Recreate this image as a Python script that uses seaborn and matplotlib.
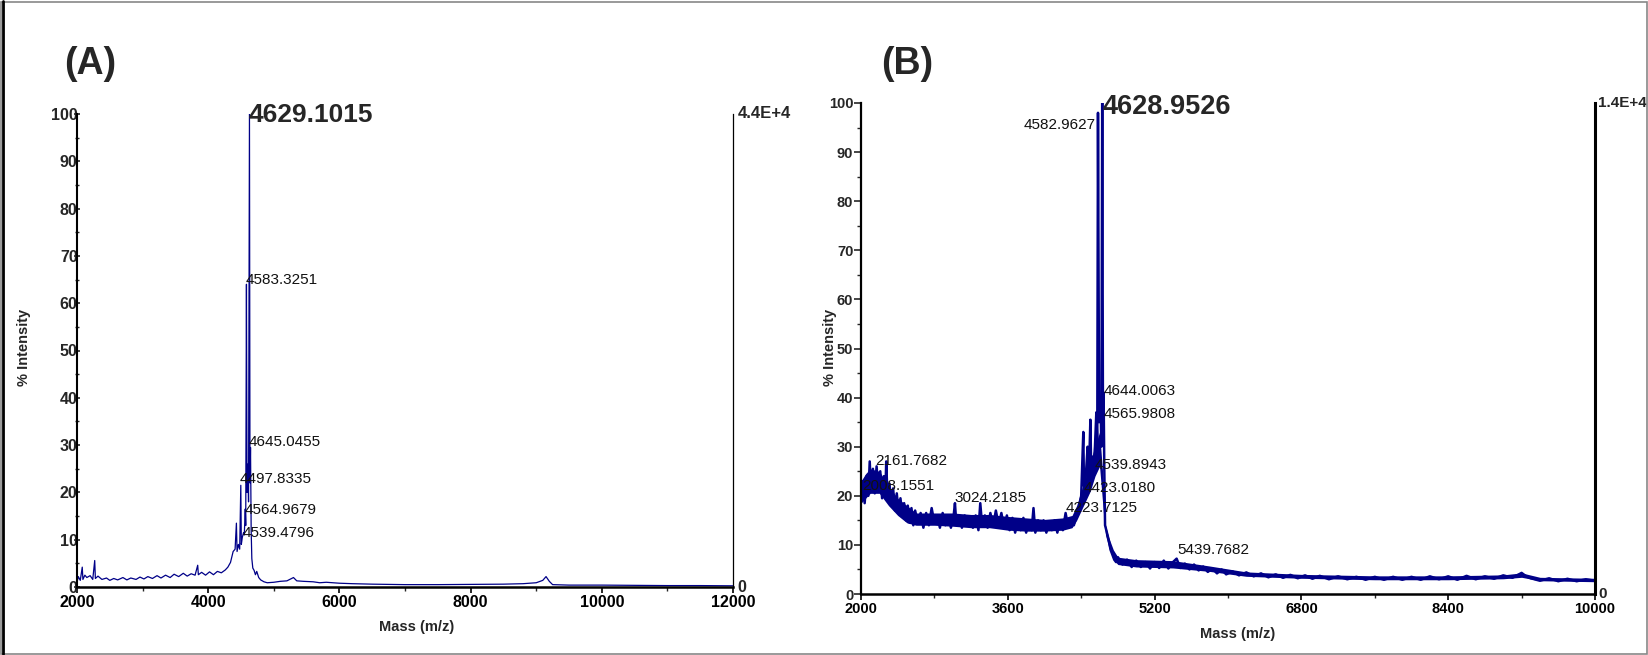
import matplotlib
matplotlib.use("Agg")
import matplotlib.pyplot as plt
import seaborn as sns
import numpy as np
import pandas as pd
from matplotlib.ticker import MultipleLocator, FixedLocator
from matplotlib.patches import Rectangle
from matplotlib.lines import Line2D

# ---------------- data: panel A ----------------
mass_A = [2000, 2020, 2050, 2080, 2090, 2120, 2150, 2200, 2240, 2270, 2280, 2320, 2380, 2450,
          2500, 2560, 2620, 2700, 2760, 2820, 2900, 2960, 3020, 3080, 3150, 3220, 3280, 3350,
          3420, 3480, 3550, 3620, 3680, 3740, 3800, 3840, 3850, 3900, 3960, 4020, 4080, 4140,
          4200, 4260, 4300, 4340, 4380, 4410, 4430, 4440, 4460, 4480, 4497, 4505, 4520, 4539,
          4550, 4565, 4572, 4583, 4592, 4605, 4615, 4629, 4637, 4645, 4655, 4665, 4680, 4700,
          4720, 4740, 4770, 4800, 4850, 4900, 5000, 5100, 5200, 5300, 5350, 5450, 5600, 5700,
          5800, 6000, 6200, 6500, 7000, 7500, 8000, 8500, 8800, 9000, 9100, 9150, 9200, 9250,
          9500, 10000, 10500, 11000, 11500, 12000]
int_A = [1.0, 2.2, 1.4, 4.2, 1.6, 2.5, 2.0, 2.4, 1.6, 5.6, 1.8, 2.3, 1.6, 1.9,
         1.4, 1.8, 1.5, 2.0, 1.5, 1.9, 1.6, 2.1, 1.7, 2.2, 1.8, 2.4, 1.9, 2.5,
         2.0, 2.7, 2.2, 2.9, 2.3, 2.8, 2.5, 4.6, 2.6, 3.1, 2.5, 3.2, 2.6, 3.3,
         3.0, 3.6, 4.2, 5.2, 7.5, 8.0, 13.5, 7.5, 9.0, 8.0, 21.5, 9.0, 10.5, 11.5,
         11.0, 16.5, 13.0, 64.0, 20.0, 26.0, 18.0, 100.0, 22.0, 29.5, 12.0, 6.0, 4.0, 3.5,
         2.6, 3.3, 2.0, 1.5, 1.1, 0.9, 1.0, 1.2, 1.3, 2.0, 1.3, 1.2, 1.1, 0.9,
         1.0, 0.8, 0.7, 0.6, 0.5, 0.5, 0.55, 0.6, 0.7, 0.9, 1.4, 2.2, 1.2, 0.5,
         0.4, 0.4, 0.35, 0.3, 0.3, 0.25]

peakA_text = ["4583.3251", "4645.0455", "4497.8335", "4564.9679", "4539.4796"]
peakA_mass = [4572, 4622, 4485, 4550, 4526]
peakA_int = [64.0, 29.8, 22.0, 15.4, 10.5]
baseA_text = "4629.1015"
baseA_mass, baseA_int = 4622, 98.3

# ---------------- data: panel B ----------------
mass_B = [2000, 2020, 2040, 2060, 2080, 2095, 2110, 2130, 2150, 2170, 2190, 2210, 2230, 2250,
          2265, 2275, 2290, 2310, 2330, 2350, 2370, 2390, 2410, 2430, 2450, 2470, 2490, 2510,
          2530, 2550, 2570, 2590, 2620, 2650, 2680, 2710, 2740, 2770, 2800, 2830, 2860, 2890,
          2920, 2950, 2980, 3010, 3024, 3040, 3070, 3100, 3130, 3160, 3190, 3220, 3250, 3280,
          3300, 3320, 3350, 3380, 3410, 3440, 3470, 3500, 3530, 3560, 3590, 3620, 3650, 3680,
          3710, 3740, 3770, 3800, 3830, 3860, 3880, 3900, 3930, 3960, 3990, 4020, 4050, 4080,
          4110, 4140, 4170, 4200, 4230, 4260, 4290, 4320, 4350, 4380, 4400, 4423, 4430, 4450,
          4470, 4480, 4500, 4510, 4530, 4539, 4550, 4565, 4575, 4583, 4595, 4610, 4620, 4629,
          4637, 4644, 4652, 4660, 4680, 4700, 4720, 4740, 4760, 4780, 4800, 4850, 4900, 4950,
          5000, 5050, 5100, 5150, 5200, 5250, 5300, 5350, 5400, 5440, 5480, 5530, 5580, 5630,
          5680, 5730, 5780, 5830, 5880, 5930, 5980, 6050, 6120, 6200, 6280, 6360, 6440, 6520,
          6600, 6680, 6760, 6840, 6920, 7000, 7100, 7200, 7300, 7400, 7500, 7600, 7700, 7800,
          7900, 8000, 8100, 8200, 8300, 8400, 8500, 8600, 8700, 8800, 8900, 9000, 9100, 9200,
          9250, 9300, 9400, 9500, 9600, 9700, 9800, 9900, 10000]
int_B = [19.0, 23.0, 18.5, 24.0, 20.0, 27.0, 21.0, 25.5, 20.5, 26.0, 21.0, 25.0, 19.5, 24.0,
         20.0, 27.0, 19.0, 22.5, 18.0, 21.5, 17.0, 20.5, 16.5, 19.5, 16.0, 18.5, 15.0, 18.0,
         14.5, 17.5, 14.0, 17.0, 14.5, 16.5, 13.5, 16.5, 14.0, 17.5, 14.5, 16.0, 13.5, 16.5,
         14.0, 16.0, 13.5, 16.0, 18.5, 14.0, 16.0, 13.5, 16.0, 14.0, 15.5, 13.5, 16.0, 13.0,
         18.5, 14.0, 16.0, 13.5, 16.5, 14.0, 17.0, 14.0, 16.5, 13.5, 16.0, 13.0, 15.5, 12.5,
         15.0, 13.0, 15.5, 12.5, 15.0, 13.0, 17.5, 12.5, 15.0, 13.0, 15.0, 12.5, 14.5, 13.0,
         15.0, 12.5, 15.0, 13.0, 16.5, 13.5, 15.0, 14.0, 16.0, 18.0, 20.0, 33.0, 22.0, 24.0,
         30.0, 21.0, 35.5, 24.0, 28.0, 27.0, 30.0, 37.0, 30.0, 98.0, 35.0, 40.0, 30.0, 100.0,
         36.0, 41.0, 25.0, 14.0, 12.5, 11.0, 9.0, 8.0, 7.0, 6.5, 7.5, 6.0, 7.0, 5.5,
         6.8, 5.5, 6.5, 5.2, 6.5, 5.3, 6.8, 5.2, 6.5, 7.2, 5.3, 6.2, 5.0, 6.0,
         4.8, 5.6, 4.5, 5.2, 4.2, 5.0, 4.0, 4.6, 3.8, 4.4, 3.6, 4.2, 3.4, 4.0,
         3.3, 3.9, 3.2, 3.8, 3.1, 3.7, 3.0, 3.6, 3.0, 3.5, 2.9, 3.5, 2.9, 3.5,
         2.9, 3.5, 2.9, 3.6, 3.0, 3.6, 2.9, 3.7, 3.0, 3.6, 3.1, 3.8, 3.3, 4.3,
         3.6, 3.2, 2.7, 3.2, 2.6, 3.1, 2.6, 3.0, 2.7]

# noise band of panel B (lower / upper envelope)
band_mass_B = [2000, 2050, 2100, 2200, 2300, 2400, 2500, 2600, 2800, 3000, 3200, 3400, 3600,
               3800, 4000, 4200, 4300, 4350, 4400, 4450, 4500, 4550, 4600, 4645, 4665, 4700,
               4750, 4800, 5000, 5400, 5800, 6200, 6800, 7600, 8400, 9000, 9200, 9400, 10000]
band_low_B = [18.5, 19.5, 20.5, 20.5, 18.0, 16.0, 14.5, 14.0, 14.0, 13.8, 13.5, 13.5, 13.0,
              12.8, 12.8, 13.0, 13.5, 15.0, 17.0, 19.0, 21.0, 24.0, 26.0, 16.0, 12.0, 9.5,
              7.0, 6.0, 5.5, 5.3, 4.6, 3.6, 3.2, 2.9, 2.9, 3.1, 3.4, 2.7, 2.5]
band_high_B = [23.0, 24.5, 25.5, 25.0, 22.0, 19.5, 18.0, 16.5, 16.5, 16.5, 16.2, 16.2, 15.8,
               15.5, 15.2, 15.5, 16.0, 18.0, 21.0, 24.0, 27.0, 30.0, 33.0, 22.0, 14.0, 11.5,
               9.0, 7.5, 7.0, 6.8, 5.7, 4.5, 4.0, 3.7, 3.7, 3.9, 4.3, 3.4, 3.2]

peakB_text = ["4644.0063", "4565.9808", "4539.8943", "4423.0180", "4223.7125",
              "2161.7682", "2008.1551", "3024.2185", "5439.7682"]
peakB_mass = [4648, 4648, 4550, 4423, 4231, 2156, 2011, 3016, 5446]
peakB_int = [40.6, 35.8, 25.5, 20.8, 16.7, 26.2, 21.1, 18.7, 8.1]
leftB_text = "4582.9627"
leftB_mass, leftB_int = 4557, 94.8
baseB_text = "4628.9526"
baseB_mass, baseB_int = 4630, 97.7

xticks_B = [2000, 3600, 5200, 6800, 8400, 10000]
xminor_B = [2800, 4400, 6000, 7600, 9200]

# ---------------- style ----------------
sns.set_theme(style="ticks")
plt.rcParams['font.family'] = ['Liberation Sans', 'DejaVu Sans']

W, H = 1648, 655
fig = plt.figure(figsize=(W / 100, H / 100), dpi=100)
fig.patch.set_facecolor("white")

NAVY = "#000088"

axA = fig.add_axes([77 / W, (H - 587) / H, (733 - 77) / W, (587 - 114) / H])
axB = fig.add_axes([861 / W, (H - 594) / H, (1595 - 861) / W, (594 - 103) / H])

dfA = pd.DataFrame({"mass": mass_A, "intensity": int_A})
dfB = pd.DataFrame({"mass": mass_B, "intensity": int_B})
sns.lineplot(data=dfA, x="mass", y="intensity", ax=axA, color=NAVY, lw=0.9,
             estimator=None, sort=False)
axB.fill_between(band_mass_B, band_low_B, band_high_B, color=NAVY, lw=0)
sns.lineplot(data=dfB, x="mass", y="intensity", ax=axB, color=NAVY, lw=1.8,
             estimator=None, sort=False)


def style_axis(ax, xlim, lw_left, lw_bottom, lw_right, tsize, ylab_pad, ydir):
    ax.set_xlim(*xlim)
    ax.set_ylim(0, 100)
    ax.set_facecolor("white")
    ax.yaxis.set_major_locator(MultipleLocator(10))
    ax.yaxis.set_minor_locator(MultipleLocator(5))
    ax.spines['top'].set_visible(False)
    ax.spines['left'].set_linewidth(lw_left)
    ax.spines['bottom'].set_linewidth(lw_bottom)
    ax.spines['right'].set_linewidth(lw_right)
    for s in ['left', 'bottom', 'right']:
        ax.spines[s].set_color("black")
    ax.tick_params(axis='x', which='major', direction='out', length=4, width=1.2,
                   pad=2, labelsize=tsize, colors='black')
    ax.tick_params(axis='x', which='minor', direction='out', length=3, width=1.0)
    ax.tick_params(axis='y', which='major', direction=ydir, length=5, width=1.2,
                   pad=ylab_pad, labelsize=tsize, right=False)
    ax.tick_params(axis='y', which='minor', direction=ydir, length=3, width=1.0, right=False)
    ax.set_xlabel("")
    ax.set_ylabel("")
    ax.grid(False)


axA.xaxis.set_major_locator(MultipleLocator(2000))
axA.xaxis.set_minor_locator(MultipleLocator(1000))
axB.xaxis.set_major_locator(FixedLocator(xticks_B))
axB.xaxis.set_minor_locator(FixedLocator(xminor_B))
style_axis(axA, (2000, 12000), 1.5, 1.8, 0.9, 11.5, -3.0, 'inout')
style_axis(axB, (2000, 10000), 1.6, 1.8, 2.2, 10.5, 0.5, 'out')
for ax in (axA, axB):
    for lab in ax.get_xticklabels() + ax.get_yticklabels():
        lab.set_fontweight('bold')

# right-axis scale labels
axA.text(1.007, 1.0, "4.4E+4", transform=axA.transAxes, ha='left', va='center',
         fontsize=12, fontweight='bold')
axA.text(1.007, 0.0, "0", transform=axA.transAxes, ha='left', va='center',
         fontsize=11.5, fontweight='bold')
axB.text(1.004, 1.0, "1.4E+4", transform=axB.transAxes, ha='left', va='center',
         fontsize=11, fontweight='bold')
axB.text(1.004, 0.0, "0", transform=axB.transAxes, ha='left', va='center',
         fontsize=11, fontweight='bold')

# peak annotations
axA.text(baseA_mass, baseA_int, baseA_text, ha='left', va='baseline',
         fontsize=19, fontweight='bold', clip_on=False)
for t, m, v in zip(peakA_text, peakA_mass, peakA_int):
    axA.text(m, v, t, ha='left', va='baseline', fontsize=11, color='#111111')

axB.text(baseB_mass, baseB_int, baseB_text, ha='left', va='baseline',
         fontsize=19.5, fontweight='bold', clip_on=False)
axB.text(leftB_mass, leftB_int, leftB_text, ha='right', va='baseline',
         fontsize=11, color='#111111')
for t, m, v in zip(peakB_text, peakB_mass, peakB_int):
    axB.text(m, v, t, ha='left', va='baseline', fontsize=11, color='#111111')

# axis titles
fig.text(24 / W, 1 - 347 / H, "% Intensity", rotation=90, ha='center', va='center',
         fontsize=10.5, fontweight='bold')
fig.text(830 / W, 1 - 347 / H, "% Intensity", rotation=90, ha='center', va='center',
         fontsize=10.5, fontweight='bold')
fig.text(417 / W, 1 - 627 / H, "Mass (m/z)", ha='center', va='center',
         fontsize=10.5, fontweight='bold')
fig.text(1238 / W, 1 - 634 / H, "Mass (m/z)", ha='center', va='center',
         fontsize=10.5, fontweight='bold')

# panel letters
fig.text(64 / W, 1 - 74 / H, "(A)", ha='left', va='baseline', fontsize=27, fontweight='bold')
fig.text(881 / W, 1 - 74 / H, "(B)", ha='left', va='baseline', fontsize=27, fontweight='bold')

# figure frame
fig.add_artist(Rectangle((0.5 / W, 1.5 / H), (W - 2) / W, (H - 3) / H, transform=fig.transFigure,
                         fill=False, edgecolor="#888888", lw=1.2))
fig.add_artist(Line2D([2.5 / W, 2.5 / W], [1.5 / H, 1 - 0.5 / H], transform=fig.transFigure,
                      color="black", lw=2.0))

fig.savefig("out.png", dpi=100, facecolor="white")
